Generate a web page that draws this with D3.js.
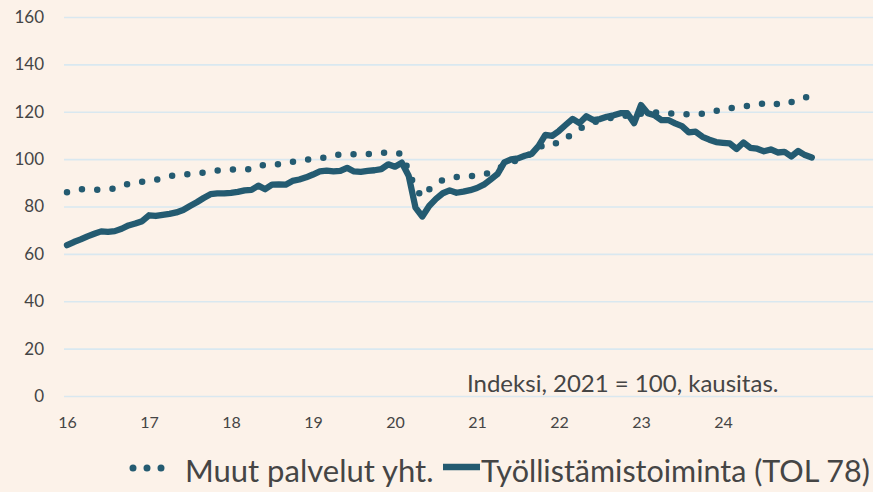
<!DOCTYPE html>
<html>
<head>
<meta charset="utf-8">
<script src="https://cdn.jsdelivr.net/npm/d3@7"></script>
<style>
  body { margin: 0; background: #fcf2e9; }
  svg { display: block; font-family: Lato, "Open Sans", sans-serif; }
</style>
</head>
<body>
<div class="graph-center"></div>
<script>
// data: monthly index, 2016M01 - 2025M02 (2021 = 100)
let yearLabels = ["16", "17", "18", "19", "20", "21", "22", "23", "24"]
let yTicks = [0, 20, 40, 60, 80, 100, 120, 140, 160]
let seriesNames = ["Muut palvelut yht.", "Työllistämistoiminta (TOL 78)"]

let muutPalvelut = [
  86.0, 86.7, 87.3, 87.3, 87.1, 87.1, 87.3, 87.6, 88.6, 89.6, 90.0, 90.4,
  90.8, 91.3, 92.0, 92.7, 93.3, 93.5, 93.7, 94.0, 94.3, 94.7, 95.2, 95.5,
  95.6, 95.7, 95.7, 95.7, 96.7, 97.8, 97.9, 97.8, 98.3, 98.9, 99.4, 99.7,
  100.1, 100.4, 100.8, 101.4, 102.1, 102.1, 102.0, 102.0, 102.1, 102.3, 102.6, 102.9,
  102.6, 102.2, 95.0, 87.5, 84.0, 87.2, 89.3, 91.2, 91.9, 92.4, 92.7, 92.8,
  93.0, 93.7, 94.3, 95.8, 97.3, 98.6, 99.8, 101.1, 102.4, 104.5, 106.6, 106.7,
  106.7, 108.7, 110.9, 112.7, 114.4, 115.5, 116.3, 117.0, 117.6, 118.0, 118.4, 118.8,
  119.2, 119.5, 119.7, 119.8, 119.4, 119.0, 118.9, 118.9, 119.0, 119.2, 119.4, 120.3,
  121.1, 121.5, 121.9, 122.2, 122.6, 123.0, 123.6, 124.1, 123.2, 123.0, 124.1, 125.2,
  126.0, 126.9
]

let tyollistamistoiminta = [
  63.7, 65.0, 66.1, 67.4, 68.5, 69.5, 69.3, 69.6, 70.6, 72.0, 72.8, 73.8,
  76.3, 76.0, 76.5, 76.9, 77.5, 78.5, 80.2, 81.8, 83.6, 85.2, 85.5, 85.5,
  85.8, 86.2, 86.8, 87.0, 88.8, 87.3, 89.2, 89.3, 89.2, 90.8, 91.4, 92.3,
  93.5, 94.8, 95.1, 94.8, 95.0, 96.3, 94.8, 94.6, 95.0, 95.3, 95.8, 97.8,
  96.8, 98.5, 93.0, 79.5, 75.8, 80.2, 83.2, 85.6, 86.8, 85.8, 86.3, 86.9,
  87.8, 89.2, 91.4, 93.7, 98.6, 99.9, 100.3, 101.4, 102.2, 105.5, 110.2, 109.8,
  111.9, 114.5, 117.0, 115.2, 118.1, 116.5, 116.9, 117.9, 118.5, 119.4, 119.4, 115.2,
  122.8, 119.4, 118.5, 116.5, 116.5, 115.1, 113.9, 111.3, 111.6, 109.4, 108.2, 107.2,
  106.9, 106.6, 104.3, 107.0, 104.8, 104.4, 103.3, 104.1, 102.8, 103.1, 101.1, 103.4,
  101.7, 100.7
]

let svgWidth = 873
let svgHeight = 492
let lineColor = "#245b71"
let textColor = "#454545"

let svg = d3.select('.graph-center')
    .append('svg')
    .attr('width', svgWidth)
    .attr('height', svgHeight)

// scales (month index on x)
let xScale = d3.scaleLinear()
    .domain([0, 109])
    .range([67, 811.8])

let yScale = d3.scaleLinear()
    .domain([0, 160])
    .range([396, 17])

// y axis + gridlines
let yAxis = d3.axisLeft(yScale)
    .tickValues(yTicks)
    .tickSize(-(svgWidth - 64))
    .tickPadding(20)

svg.append("g")
    .attr("id", "y-axis")
    .attr("transform", "translate(64,0)")
    .call(yAxis)
    .call(g => g.select(".domain").remove())
    .call(g => g.selectAll(".tick line")
        .attr("stroke", "#d9e8f0")
        .attr("stroke-width", 1.6))
    .call(g => g.selectAll(".tick text")
        .attr("fill", textColor)
        .attr("font-size", 17)
        .attr("font-family", "Lato"))

// x axis: labels at January of each year
let xAxis = d3.axisBottom(xScale)
    .tickValues(yearLabels.map((d, i) => i * 12))
    .tickFormat((d, i) => yearLabels[i])
    .tickSize(0)

svg.append("g")
    .attr("id", "x-axis")
    .call(xAxis)
    .call(g => g.select(".domain").remove())
    .call(g => g.selectAll(".tick text")
        .attr("y", 428)
        .attr("dy", null)
        .attr("fill", textColor)
        .attr("font-size", 16)
        .attr("font-family", "Lato"))

let valueLine = d3.line()
    .x((d, i) => xScale(i))
    .y(d => yScale(d))

// dotted series
svg.append("path")
    .attr("d", valueLine(muutPalvelut))
    .attr("fill", "none")
    .attr("stroke", lineColor)
    .attr("stroke-width", 6.5)
    .attr("stroke-linecap", "round")
    .attr("stroke-dasharray", "0,15.3")

// solid series
svg.append("path")
    .attr("d", valueLine(tyollistamistoiminta))
    .attr("fill", "none")
    .attr("stroke", lineColor)
    .attr("stroke-width", 6.3)
    .attr("stroke-linejoin", "round")
    .attr("stroke-linecap", "round")

// note
svg.append("text")
    .attr("x", 467)
    .attr("y", 392)
    .attr("fill", textColor)
    .attr("font-size", 24)
    .text("Indeksi, 2021 = 100, kausitas.")

// legend
let legend = svg.append("g").attr("id", "legend")

legend.append("line")
    .attr("x1", 133).attr("x2", 175)
    .attr("y1", 468).attr("y2", 468)
    .attr("stroke", lineColor)
    .attr("stroke-width", 7)
    .attr("stroke-linecap", "round")
    .attr("stroke-dasharray", "0,14")

legend.append("text")
    .attr("x", 185)
    .attr("y", 482)
    .attr("fill", textColor)
    .attr("font-size", 31)
    .text(seriesNames[0])

legend.append("line")
    .attr("x1", 443).attr("x2", 480)
    .attr("y1", 467).attr("y2", 467)
    .attr("stroke", lineColor)
    .attr("stroke-width", 6.7)

legend.append("text")
    .attr("x", 481)
    .attr("y", 482)
    .attr("fill", textColor)
    .attr("font-size", 30.5)
    .text(seriesNames[1])
</script>
</body>
</html>
